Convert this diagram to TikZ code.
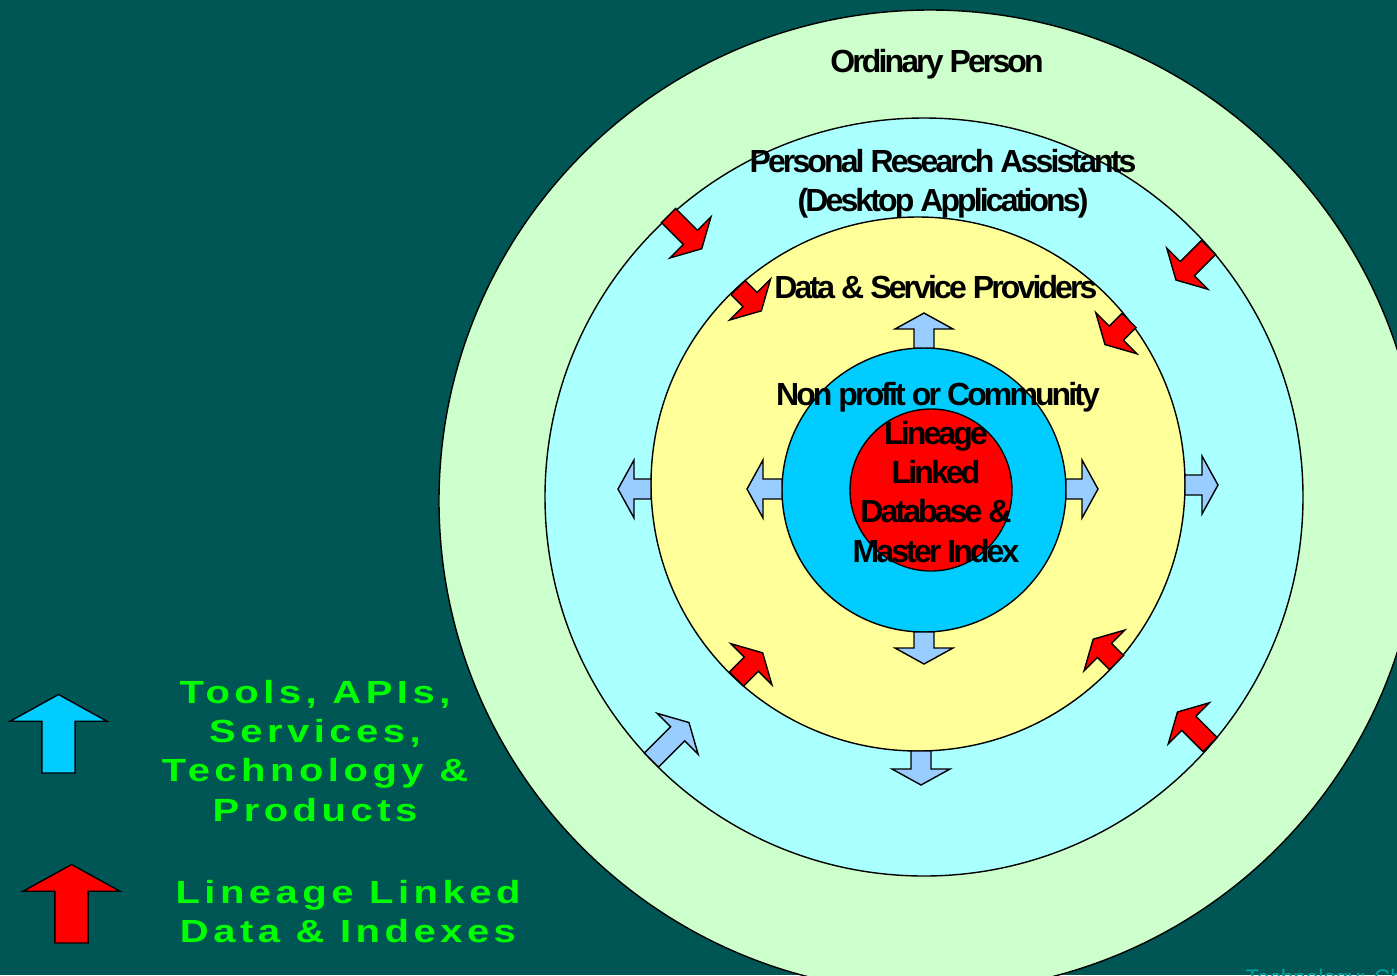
\documentclass[tikz,border=0pt]{standalone}
\usepackage{fontspec}
\setmainfont{Liberation Sans}
\newfontfamily\ringfont[LetterSpace=-9]{Liberation Sans}
\newfontfamily\legendfont[FakeStretch=1.25, LetterSpace=14]{Liberation Sans}
\usetikzlibrary{positioning}
\definecolor{bgteal}{RGB}{0,85,85}
\definecolor{ringgreen}{RGB}{204,255,204}
\definecolor{ringcyan}{RGB}{170,255,255}
\definecolor{ringyellow}{RGB}{255,255,153}
\definecolor{ringblue}{RGB}{0,204,255}
\definecolor{ringred}{RGB}{255,0,0}
\definecolor{toolblue}{RGB}{153,204,255}
\definecolor{legendgreen}{RGB}{0,255,0}
\definecolor{footteal}{RGB}{0,160,160}
\tikzset{
  pics/fatarrow/.style={code={
    \path[pic actions] (0,-10) -- (#1,-10) -- (#1,-29) -- ({#1+16},0) -- (#1,29) -- (#1,10) -- (0,10) -- cycle;
  }}
}

\begin{document}
\begin{tikzpicture}
[x=0.01cm, y=-0.01cm,
   ring/.style={draw=black, line width=0.4pt},
   tool/.style={fill=toolblue, draw=black, line width=0.4pt},
   feed/.style={fill=ringred, draw=black, line width=0.4pt},
   ringtext/.style={font=\ringfont\bfseries\fontsize{9.1}{11.1}\selectfont, inner sep=0pt, align=center},
   legendtext/.style={font=\legendfont\bfseries\fontsize{9.1}{11.1}\selectfont, text=legendgreen, inner sep=0pt, align=center}]
\useasboundingbox (0,0) rectangle (1397,975);
\clip (0,0) rectangle (1397,975);
\fill[bgteal] (0,0) rectangle (1397,975);
\draw[ring, fill=ringgreen] (930,501) circle[radius=491];
\draw[ring, fill=ringcyan] (924,497) circle[radius=379];
\draw[ring, fill=ringyellow] (918,484) circle[radius=267];
\draw[ring, fill=ringblue] (924,490) circle[radius=142];
\draw[ring, fill=ringred] (931,490) circle[radius=81];
\pic[tool, rotate=90] at (924,348) {fatarrow=19};
\pic[tool, rotate=180] at (782,489) {fatarrow=19};
\pic[tool, rotate=0] at (1066,489) {fatarrow=16};
\pic[tool, rotate=-90] at (924,632) {fatarrow=16};
\pic[tool, rotate=180] at (651,489) {fatarrow=17};
\pic[tool, rotate=0] at (1185,485) {fatarrow=17};
\pic[tool, rotate=-90] at (921,751) {fatarrow=18};
\pic[tool, rotate=45] at (651.5,760) {fatarrow=37};
\pic[feed, rotate=-45] at (668.5,215.5) {fatarrow=31};
\pic[feed, rotate=-45] at (738,287.5) {fatarrow=17};
\pic[feed, rotate=-135] at (1208.5,247.5) {fatarrow=30};
\pic[feed, rotate=-135] at (1129,320.5) {fatarrow=18};
\pic[feed, rotate=45] at (736.5,679) {fatarrow=21};
\pic[feed, rotate=135] at (1116.5,662.5) {fatarrow=17};
\pic[feed, rotate=135] at (1210,744.5) {fatarrow=30};
\node[ringtext, anchor=base] (OP) at (937,72) {Ordinary Person};
\node[ringtext, anchor=north] (PRA) at (943,149) {Personal Research Assistants\\(Desktop Applications)};
\node[ringtext, anchor=base] (DSP) at (936,298) {Data \& Service Providers};
\node[ringtext, anchor=base] (NPC) at (938,405) {Non profit or Community};
\node[ringtext, anchor=north] (LLD) at (936,421) {Lineage\\Linked\\Database \&\\Master Index};
\pic[fill=ringblue, draw=black, scale=1.67, rotate=90] at (58.5,773) {fatarrow=31};
\pic[fill=ringred, draw=black, scale=1.67, rotate=90] at (71.5,943) {fatarrow=31};
\node[legendtext, anchor=north] (legend1) at (315,680) {Tools, APIs,\\Services,\\Technology \&\\Products};
\node[legendtext, anchor=north] (legend2) at (348,880) {Lineage Linked\\Data \& Indexes};
\node[anchor=base west, text=footteal, font=\fontsize{6.4}{7.7}\selectfont, inner sep=0pt] (foot) at (1245,985) {Technology: Ch};
\end{tikzpicture}
\end{document}
